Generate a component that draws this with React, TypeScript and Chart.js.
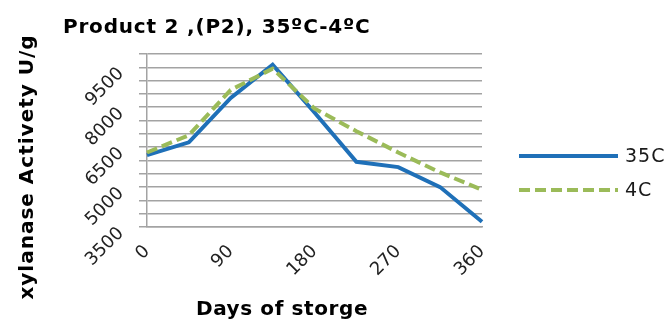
import React, { useEffect, useRef } from 'react';
import { Chart, registerables } from 'chart.js';

Chart.register(...registerables);

// ---- data ----
const days = ['0', '45', '90', '135', '180', '225', '270', '315', '360'];
const activity35C = [6200, 6680, 8350, 9600, 7800, 5950, 5750, 5000, 3700];
const activity4C = [6300, 6950, 8650, 9450, 7950, 7100, 6300, 5550, 4900];
const seriesNames = ['35C', '4C'];
const xTickLabels = ['0', '90', '180', '270', '360'];
const yTickLabels = [3500, 5000, 6500, 8000, 9500];
const yMin = 3500;
const yMax = 10000;
const yGridStep = 500;
const chartTitle = 'Product 2 ,(P2), 35ºC-4ºC';
const xAxisTitle = 'Days of storge';
const yAxisTitle = 'xylanase Activety U/g';

const FONT = '"DejaVu Sans", Verdana, sans-serif';
const GRID = '#a3a3a3';
const BLUE = '#1f70b8';
const GREEN = '#9bbb59';

const textPlugin = {
  id: 'chartTexts',
  afterDraw(chart: any) {
    const { ctx, chartArea } = chart;
    ctx.save();
    ctx.fillStyle = '#000';
    ctx.font = `bold 20px ${FONT}`;
    ctx.textAlign = 'left';
    ctx.textBaseline = 'alphabetic';
    ctx.letterSpacing = '0.8px';
    ctx.fillText(chartTitle, 63, 33);

    ctx.letterSpacing = '0.6px';
    ctx.textAlign = 'center';
    ctx.fillText(xAxisTitle, 282, 315);

    ctx.save();
    ctx.letterSpacing = '1px';
    ctx.translate(33, 167);
    ctx.rotate(-Math.PI / 2);
    ctx.fillText(yAxisTitle, 0, 0);
    ctx.restore();

    // legend
    ctx.font = `19px ${FONT}`;
    ctx.letterSpacing = '1px';
    ctx.textAlign = 'left';
    ctx.textBaseline = 'middle';
    const lx = chartArea.right + 37;
    chart.data.datasets.forEach((ds: any, i: number) => {
      const y = 156 + i * 34;
      ctx.strokeStyle = ds.borderColor;
      ctx.lineWidth = ds.borderWidth;
      ctx.setLineDash(ds.borderDash || []);
      ctx.beginPath();
      ctx.moveTo(lx, y);
      ctx.lineTo(lx + 99, y);
      ctx.stroke();
      ctx.setLineDash([]);
      ctx.fillStyle = '#1a1a1a';
      ctx.fillText(ds.label, lx + 106, y + 1);
    });
    ctx.restore();
  },
};

export default function App() {
  const canvasRef = useRef<HTMLCanvasElement | null>(null);

  useEffect(() => {
    if (!canvasRef.current) return;
    const chart = new Chart(canvasRef.current, {
      type: 'line',
      data: {
        labels: days,
        datasets: [
          {
            label: seriesNames[0],
            data: activity35C,
            borderColor: BLUE,
            backgroundColor: BLUE,
            borderWidth: 4,
            pointRadius: 0,
            tension: 0,
            order: 1,
          },
          {
            label: seriesNames[1],
            data: activity4C,
            borderColor: GREEN,
            backgroundColor: GREEN,
            borderWidth: 4,
            borderDash: [11, 5],
            pointRadius: 0,
            tension: 0,
            order: 0,
          },
        ],
      },
      options: {
        responsive: true,
        maintainAspectRatio: false,
        animation: false,
        layout: { padding: { top: 54, right: 186, bottom: 0, left: 0 } },
        plugins: {
          legend: { display: false },
          title: { display: false },
          tooltip: { enabled: false },
        },
        scales: {
          x: {
            type: 'category',
            offset: false,
            grid: { display: false, drawTicks: false },
            border: { display: true, color: GRID, width: 1.5 },
            ticks: {
              autoSkip: false,
              minRotation: 45,
              maxRotation: 45,
              padding: 14,
              color: '#222',
              font: { size: 18, family: FONT },
              callback(value: any, index: number) {
                const l = days[index];
                return xTickLabels.includes(l) ? l : '';
              },
            },
            afterFit(scale: any) {
              scale.height = 95;
            },
          },
          y: {
            min: yMin,
            max: yMax,
            grid: { color: GRID, lineWidth: 1.5, drawTicks: true, tickLength: 8, tickColor: GRID },
            border: { display: true, color: GRID, width: 1.5 },
            ticks: {
              stepSize: yGridStep,
              autoSkip: false,
              minRotation: 45,
              maxRotation: 45,
              padding: 18,
              labelOffset: 3.5,
              color: '#222',
              font: { size: 18, family: FONT },
              callback(value: any) {
                return yTickLabels.includes(Number(value)) ? String(value) : '';
              },
            },
            afterFit(scale: any) {
              scale.width = 147;
            },
          },
        },
      },
      plugins: [textPlugin],
    } as any);
    return () => chart.destroy();
  }, []);

  return (
    <div style={{ position: 'absolute', left: 0, top: 0, width: 668, height: 322, background: '#fff' }}>
      <canvas ref={canvasRef} />
    </div>
  );
}
